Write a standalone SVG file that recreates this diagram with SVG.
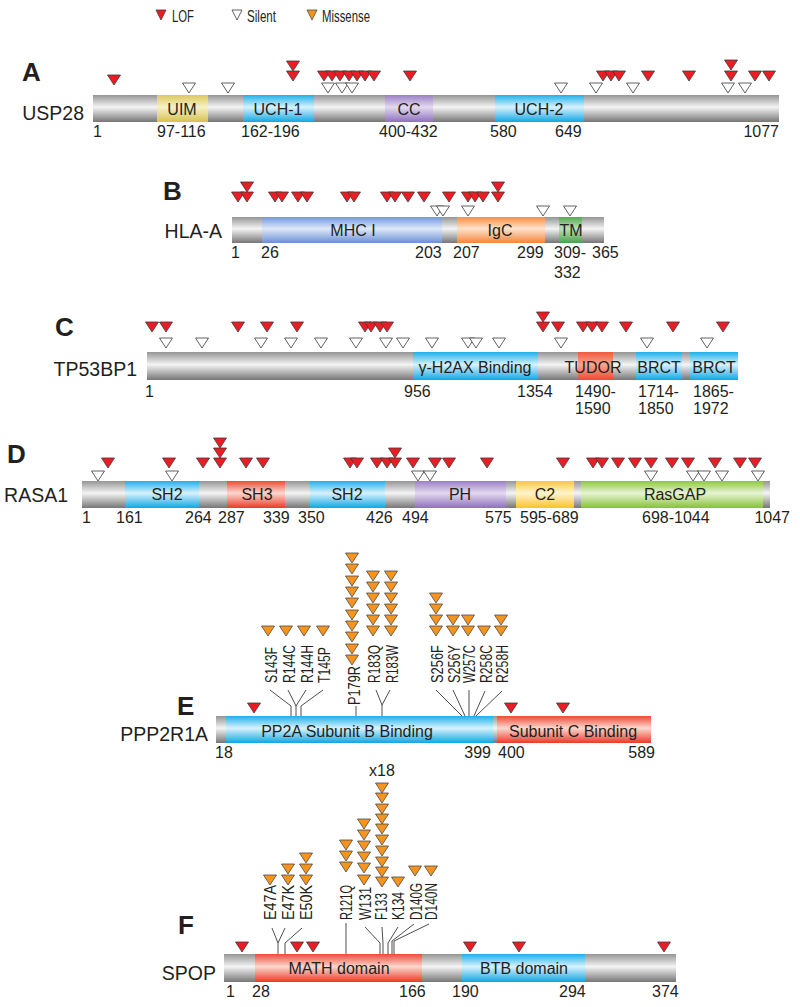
<svg xmlns="http://www.w3.org/2000/svg" xmlns:xlink="http://www.w3.org/1999/xlink" width="800" height="1007" viewBox="0 0 800 1007">
<style>
text{font-family:"Liberation Sans",Arial,sans-serif;fill:#231f20}
.let{font-size:26px;font-weight:bold}
.nm{font-size:19.5px}
.dm{font-size:16px;text-anchor:middle}
.nu{font-size:16px}
.mu{font-size:16.5px}
.lg{font-size:17px}
.l{fill:#ed1c24;stroke:#3a3a3a;stroke-width:0.8}
.s{fill:#fff;stroke:#3a3a3a;stroke-width:0.8}
.m{fill:#f7941d;stroke:#4a4a4a;stroke-width:0.8}
.cn{fill:none;stroke:#3a3a3a;stroke-width:0.9}
</style>
<defs>
<path id="t" d="M-6.5,0H6.5L0,10Z"/>
<path id="tl" d="M-5,0H5L0,10Z"/>
<linearGradient id="gGray" x1="0" y1="0" x2="0" y2="1"><stop offset="0" stop-color="#959595"/><stop offset="0.45" stop-color="#f4f4f4"/><stop offset="1" stop-color="#767676"/></linearGradient>
<linearGradient id="gCyan" x1="0" y1="0" x2="0" y2="1"><stop offset="0" stop-color="#1cb0ea"/><stop offset="0.45" stop-color="#d8f2fd"/><stop offset="1" stop-color="#10a6e4"/></linearGradient>
<linearGradient id="gRed" x1="0" y1="0" x2="0" y2="1"><stop offset="0" stop-color="#ef4a36"/><stop offset="0.45" stop-color="#fbd8cf"/><stop offset="1" stop-color="#ec3926"/></linearGradient>
<linearGradient id="gTudor" x1="0" y1="0" x2="0" y2="1"><stop offset="0" stop-color="#f05a3c"/><stop offset="0.45" stop-color="#f8a590"/><stop offset="1" stop-color="#ee4a30"/></linearGradient>
<linearGradient id="gPurple" x1="0" y1="0" x2="0" y2="1"><stop offset="0" stop-color="#9a7fc4"/><stop offset="0.45" stop-color="#e3d9ef"/><stop offset="1" stop-color="#8e70bd"/></linearGradient>
<linearGradient id="gYel" x1="0" y1="0" x2="0" y2="1"><stop offset="0" stop-color="#dcc95c"/><stop offset="0.45" stop-color="#f7f0c6"/><stop offset="1" stop-color="#d6c250"/></linearGradient>
<linearGradient id="gGold" x1="0" y1="0" x2="0" y2="1"><stop offset="0" stop-color="#fcc83a"/><stop offset="0.45" stop-color="#fff4cc"/><stop offset="1" stop-color="#fbc22c"/></linearGradient>
<linearGradient id="gBlue" x1="0" y1="0" x2="0" y2="1"><stop offset="0" stop-color="#7398d8"/><stop offset="0.45" stop-color="#dfe8f8"/><stop offset="1" stop-color="#6a90d4"/></linearGradient>
<linearGradient id="gOr" x1="0" y1="0" x2="0" y2="1"><stop offset="0" stop-color="#f78f45"/><stop offset="0.45" stop-color="#fde2cd"/><stop offset="1" stop-color="#f5853a"/></linearGradient>
<linearGradient id="gGrn" x1="0" y1="0" x2="0" y2="1"><stop offset="0" stop-color="#55a855"/><stop offset="0.45" stop-color="#bfe0b9"/><stop offset="1" stop-color="#4aa04c"/></linearGradient>
<linearGradient id="gLime" x1="0" y1="0" x2="0" y2="1"><stop offset="0" stop-color="#8dc63f"/><stop offset="0.45" stop-color="#e7f4d5"/><stop offset="1" stop-color="#86c236"/></linearGradient>
</defs>
<rect width="800" height="1007" fill="#fff"/>

<g id="legend">
<use xlink:href="#tl" class="l" x="161" y="10"/><text class="lg" x="172" y="21.5" textLength="22" lengthAdjust="spacingAndGlyphs">LOF</text>
<use xlink:href="#tl" class="s" x="237" y="10"/><text class="lg" x="247" y="21.5" textLength="29" lengthAdjust="spacingAndGlyphs">Silent</text>
<use xlink:href="#tl" class="m" x="312" y="10"/><text class="lg" x="322" y="21.5" textLength="48" lengthAdjust="spacingAndGlyphs">Missense</text>
</g>

<g id="panel-A-USP28">
<text class="let" x="22" y="81">A</text>
<text class="nm" x="84" y="120" text-anchor="end">USP28</text>
<rect x="93" y="95" width="686" height="27" fill="url(#gGray)"/>
<rect x="157" y="95" width="51" height="27" fill="url(#gYel)"/>
<rect x="243" y="95" width="71" height="27" fill="url(#gCyan)"/>
<rect x="385" y="95" width="48" height="27" fill="url(#gPurple)"/>
<rect x="495" y="95" width="89" height="27" fill="url(#gCyan)"/>
<text class="dm" x="182" y="115">UIM</text>
<text class="dm" x="278" y="115">UCH-1</text>
<text class="dm" x="409" y="115">CC</text>
<text class="dm" x="539" y="115">UCH-2</text>
<text class="nu" x="93" y="137">1</text>
<text class="nu" x="157" y="137">97-116</text>
<text class="nu" x="241" y="137">162-196</text>
<text class="nu" x="379" y="137">400-432</text>
<text class="nu" x="490" y="137">580</text>
<text class="nu" x="555" y="137">649</text>
<text class="nu" x="779" y="137" text-anchor="end">1077</text>
<g>
<use xlink:href="#t" class="l" x="114" y="75"/>
<use xlink:href="#t" class="l" x="293" y="61"/><use xlink:href="#t" class="l" x="293" y="71"/>
<use xlink:href="#t" class="l" x="324" y="71"/><use xlink:href="#t" class="l" x="332" y="71"/><use xlink:href="#t" class="l" x="340" y="71"/><use xlink:href="#t" class="l" x="349" y="71"/><use xlink:href="#t" class="l" x="357" y="71"/><use xlink:href="#t" class="l" x="365" y="71"/><use xlink:href="#t" class="l" x="374" y="71"/>
<use xlink:href="#t" class="l" x="410" y="71"/>
<use xlink:href="#t" class="l" x="603" y="71"/><use xlink:href="#t" class="l" x="611" y="71"/><use xlink:href="#t" class="l" x="619" y="71"/>
<use xlink:href="#t" class="l" x="648" y="71"/><use xlink:href="#t" class="l" x="689" y="71"/>
<use xlink:href="#t" class="l" x="731" y="60"/><use xlink:href="#t" class="l" x="731" y="71"/>
<use xlink:href="#t" class="l" x="755" y="71"/><use xlink:href="#t" class="l" x="769" y="71"/>
<use xlink:href="#t" class="s" x="189" y="83"/><use xlink:href="#t" class="s" x="228" y="83"/>
<use xlink:href="#t" class="s" x="328" y="83"/><use xlink:href="#t" class="s" x="342" y="83"/><use xlink:href="#t" class="s" x="352" y="83"/>
<use xlink:href="#t" class="s" x="561" y="83"/><use xlink:href="#t" class="s" x="596" y="83"/><use xlink:href="#t" class="s" x="633" y="83"/>
<use xlink:href="#t" class="s" x="728" y="83"/><use xlink:href="#t" class="s" x="745" y="83"/>
</g>
</g>

<g id="panel-B-HLA-A">
<text class="let" x="163" y="200">B</text>
<text class="nm" x="222" y="238" text-anchor="end">HLA-A</text>
<rect x="232" y="217" width="372" height="26" fill="url(#gGray)"/>
<rect x="262" y="217" width="180" height="26" fill="url(#gBlue)"/>
<rect x="457" y="217" width="88" height="26" fill="url(#gOr)"/>
<rect x="559" y="217" width="23" height="26" fill="url(#gGrn)"/>
<text class="dm" x="353" y="236">MHC I</text>
<text class="dm" x="500" y="236">IgC</text>
<text class="dm" x="571" y="236">TM</text>
<text class="nu" x="231" y="258">1</text>
<text class="nu" x="261" y="258">26</text>
<text class="nu" x="415" y="258">203</text>
<text class="nu" x="453" y="258">207</text>
<text class="nu" x="517" y="258">299</text>
<text class="nu" x="554" y="258">309-</text>
<text class="nu" x="554" y="278">332</text>
<text class="nu" x="592" y="258">365</text>
<g>
<use xlink:href="#t" class="l" x="247" y="182"/><use xlink:href="#t" class="l" x="498" y="182"/>
<use xlink:href="#t" class="l" x="238" y="192"/><use xlink:href="#t" class="l" x="247" y="192"/>
<use xlink:href="#t" class="l" x="275" y="192"/><use xlink:href="#t" class="l" x="282" y="192"/>
<use xlink:href="#t" class="l" x="298" y="192"/><use xlink:href="#t" class="l" x="307" y="192"/>
<use xlink:href="#t" class="l" x="347" y="192"/><use xlink:href="#t" class="l" x="354" y="192"/>
<use xlink:href="#t" class="l" x="387" y="192"/><use xlink:href="#t" class="l" x="395" y="192"/><use xlink:href="#t" class="l" x="408" y="192"/><use xlink:href="#t" class="l" x="424" y="192"/>
<use xlink:href="#t" class="l" x="449" y="192"/>
<use xlink:href="#t" class="l" x="468" y="192"/><use xlink:href="#t" class="l" x="475" y="192"/><use xlink:href="#t" class="l" x="483" y="192"/>
<use xlink:href="#t" class="l" x="498" y="192"/>
<use xlink:href="#t" class="s" x="437" y="206"/><use xlink:href="#t" class="s" x="443" y="206"/><use xlink:href="#t" class="s" x="468" y="206"/><use xlink:href="#t" class="s" x="543" y="206"/><use xlink:href="#t" class="s" x="570" y="206"/>
</g>
</g>

<g id="panel-C-TP53BP1">
<text class="let" x="55" y="336">C</text>
<text class="nm" x="137" y="376" text-anchor="end">TP53BP1</text>
<rect x="147" y="352" width="591" height="28" fill="url(#gGray)"/>
<rect x="413" y="352" width="125" height="28" fill="url(#gCyan)"/>
<rect x="578" y="352" width="35" height="28" fill="url(#gTudor)"/>
<rect x="636" y="352" width="46" height="28" fill="url(#gCyan)"/>
<rect x="690" y="352" width="48" height="28" fill="url(#gCyan)"/>
<text class="dm" x="475" y="373" font-size="16.5">γ-H2AX Binding</text>
<text class="dm" x="593" y="373">TUDOR</text>
<text class="dm" x="659" y="373">BRCT</text>
<text class="dm" x="714" y="373">BRCT</text>
<text class="nu" x="145" y="397">1</text>
<text class="nu" x="404" y="397">956</text>
<text class="nu" x="517" y="397">1354</text>
<text class="nu" x="575" y="397">1490-</text>
<text class="nu" x="575" y="414">1590</text>
<text class="nu" x="638" y="397">1714-</text>
<text class="nu" x="638" y="414">1850</text>
<text class="nu" x="693" y="397">1865-</text>
<text class="nu" x="693" y="414">1972</text>
<g>
<use xlink:href="#t" class="l" x="543" y="312"/>
<use xlink:href="#t" class="l" x="152" y="322"/><use xlink:href="#t" class="l" x="166" y="322"/>
<use xlink:href="#t" class="l" x="238" y="322"/><use xlink:href="#t" class="l" x="267" y="322"/><use xlink:href="#t" class="l" x="297" y="322"/>
<use xlink:href="#t" class="l" x="365" y="322"/><use xlink:href="#t" class="l" x="371" y="322"/><use xlink:href="#t" class="l" x="380" y="322"/><use xlink:href="#t" class="l" x="387" y="322"/>
<use xlink:href="#t" class="l" x="543" y="322"/><use xlink:href="#t" class="l" x="558" y="322"/>
<use xlink:href="#t" class="l" x="583" y="322"/><use xlink:href="#t" class="l" x="592" y="322"/><use xlink:href="#t" class="l" x="602" y="322"/>
<use xlink:href="#t" class="l" x="626" y="322"/><use xlink:href="#t" class="l" x="673" y="322"/><use xlink:href="#t" class="l" x="723" y="322"/>
<use xlink:href="#t" class="s" x="166" y="338"/><use xlink:href="#t" class="s" x="202" y="338"/><use xlink:href="#t" class="s" x="261" y="338"/><use xlink:href="#t" class="s" x="291" y="338"/><use xlink:href="#t" class="s" x="321" y="338"/><use xlink:href="#t" class="s" x="356" y="338"/><use xlink:href="#t" class="s" x="386" y="338"/><use xlink:href="#t" class="s" x="403" y="338"/><use xlink:href="#t" class="s" x="432" y="338"/><use xlink:href="#t" class="s" x="468" y="338"/><use xlink:href="#t" class="s" x="476" y="338"/><use xlink:href="#t" class="s" x="499" y="338"/><use xlink:href="#t" class="s" x="561" y="338"/><use xlink:href="#t" class="s" x="647" y="338"/><use xlink:href="#t" class="s" x="707" y="338"/>
</g>
</g>

<g id="panel-D-RASA1">
<text class="let" x="7" y="463">D</text>
<text class="nm" x="68" y="502" text-anchor="end">RASA1</text>
<rect x="82" y="481" width="688" height="27" fill="url(#gGray)"/>
<rect x="125" y="481" width="74" height="27" fill="url(#gCyan)"/>
<rect x="227" y="481" width="58" height="27" fill="url(#gRed)"/>
<rect x="310" y="481" width="75" height="27" fill="url(#gCyan)"/>
<rect x="415" y="481" width="91" height="27" fill="url(#gPurple)"/>
<rect x="516" y="481" width="58" height="27" fill="url(#gGold)"/>
<rect x="581" y="481" width="182" height="27" fill="url(#gLime)"/>
<text class="dm" x="167" y="500">SH2</text>
<text class="dm" x="257" y="500">SH3</text>
<text class="dm" x="347" y="500">SH2</text>
<text class="dm" x="460" y="500">PH</text>
<text class="dm" x="545" y="500">C2</text>
<text class="dm" x="675" y="500">RasGAP</text>
<text class="nu" x="82" y="523">1</text>
<text class="nu" x="116" y="523">161</text>
<text class="nu" x="185" y="523">264</text>
<text class="nu" x="218" y="523">287</text>
<text class="nu" x="263" y="523">339</text>
<text class="nu" x="298" y="523">350</text>
<text class="nu" x="366" y="523">426</text>
<text class="nu" x="402" y="523">494</text>
<text class="nu" x="485" y="523">575</text>
<text class="nu" x="520" y="523">595-689</text>
<text class="nu" x="642" y="523">698-1044</text>
<text class="nu" x="790" y="523" text-anchor="end">1047</text>
<g>
<use xlink:href="#t" class="l" x="220" y="438"/><use xlink:href="#t" class="l" x="220" y="448"/><use xlink:href="#t" class="l" x="395" y="448"/>
<use xlink:href="#t" class="l" x="108" y="458"/><use xlink:href="#t" class="l" x="169" y="458"/><use xlink:href="#t" class="l" x="203" y="458"/><use xlink:href="#t" class="l" x="220" y="458"/><use xlink:href="#t" class="l" x="246" y="458"/><use xlink:href="#t" class="l" x="263" y="458"/>
<use xlink:href="#t" class="l" x="350" y="458"/><use xlink:href="#t" class="l" x="357" y="458"/><use xlink:href="#t" class="l" x="377" y="458"/><use xlink:href="#t" class="l" x="387" y="458"/><use xlink:href="#t" class="l" x="395" y="458"/>
<use xlink:href="#t" class="l" x="413" y="458"/><use xlink:href="#t" class="l" x="435" y="458"/><use xlink:href="#t" class="l" x="449" y="458"/><use xlink:href="#t" class="l" x="487" y="458"/><use xlink:href="#t" class="l" x="563" y="458"/>
<use xlink:href="#t" class="l" x="593" y="458"/><use xlink:href="#t" class="l" x="602" y="458"/><use xlink:href="#t" class="l" x="618" y="458"/><use xlink:href="#t" class="l" x="635" y="458"/><use xlink:href="#t" class="l" x="651" y="458"/><use xlink:href="#t" class="l" x="672" y="458"/><use xlink:href="#t" class="l" x="688" y="458"/><use xlink:href="#t" class="l" x="715" y="458"/><use xlink:href="#t" class="l" x="740" y="458"/><use xlink:href="#t" class="l" x="755" y="458"/>
<use xlink:href="#t" class="s" x="98" y="471"/><use xlink:href="#t" class="s" x="172" y="471"/><use xlink:href="#t" class="s" x="418" y="471"/><use xlink:href="#t" class="s" x="430" y="471"/><use xlink:href="#t" class="s" x="651" y="471"/><use xlink:href="#t" class="s" x="693" y="471"/><use xlink:href="#t" class="s" x="704" y="471"/><use xlink:href="#t" class="s" x="722" y="471"/><use xlink:href="#t" class="s" x="758" y="471"/>
</g>
</g>

<g id="panel-E-PPP2R1A">
<text class="let" x="177" y="715">E</text>
<text class="nm" x="208" y="741" text-anchor="end">PPP2R1A</text>
<rect x="216" y="716" width="435" height="27" fill="url(#gGray)"/>
<rect x="226" y="716" width="267" height="27" fill="url(#gCyan)"/>
<rect x="497" y="716" width="154" height="27" fill="url(#gRed)"/>
<text class="dm" x="347" y="737">PP2A Subunit B Binding</text>
<text class="dm" x="573" y="737">Subunit C Binding</text>
<text class="nu" x="215" y="758">18</text>
<text class="nu" x="491" y="758" text-anchor="end">399</text>
<text class="nu" x="498" y="758">400</text>
<text class="nu" x="655" y="758" text-anchor="end">589</text>
<g>
<use xlink:href="#t" class="l" x="254" y="703"/><use xlink:href="#t" class="l" x="511" y="703"/><use xlink:href="#t" class="l" x="563" y="703"/>
<use xlink:href="#t" class="m" x="268" y="626"/><use xlink:href="#t" class="m" x="286" y="626"/><use xlink:href="#t" class="m" x="304" y="626"/><use xlink:href="#t" class="m" x="323" y="626"/>
<use xlink:href="#t" class="m" x="352" y="553"/><use xlink:href="#t" class="m" x="352" y="564"/><use xlink:href="#t" class="m" x="352" y="576"/><use xlink:href="#t" class="m" x="352" y="587"/><use xlink:href="#t" class="m" x="352" y="598"/><use xlink:href="#t" class="m" x="352" y="610"/><use xlink:href="#t" class="m" x="352" y="621"/><use xlink:href="#t" class="m" x="352" y="632"/><use xlink:href="#t" class="m" x="352" y="644"/><use xlink:href="#t" class="m" x="352" y="655"/>
<use xlink:href="#t" class="m" x="373" y="571"/><use xlink:href="#t" class="m" x="373" y="582"/><use xlink:href="#t" class="m" x="373" y="593"/><use xlink:href="#t" class="m" x="373" y="604"/><use xlink:href="#t" class="m" x="373" y="615"/><use xlink:href="#t" class="m" x="373" y="626"/>
<use xlink:href="#t" class="m" x="391" y="571"/><use xlink:href="#t" class="m" x="391" y="582"/><use xlink:href="#t" class="m" x="391" y="593"/><use xlink:href="#t" class="m" x="391" y="604"/><use xlink:href="#t" class="m" x="391" y="615"/><use xlink:href="#t" class="m" x="391" y="626"/>
<use xlink:href="#t" class="m" x="436" y="593"/><use xlink:href="#t" class="m" x="436" y="604"/><use xlink:href="#t" class="m" x="436" y="615"/><use xlink:href="#t" class="m" x="436" y="626"/>
<use xlink:href="#t" class="m" x="453" y="615"/><use xlink:href="#t" class="m" x="453" y="626"/>
<use xlink:href="#t" class="m" x="468" y="615"/><use xlink:href="#t" class="m" x="468" y="626"/>
<use xlink:href="#t" class="m" x="484" y="626"/>
<use xlink:href="#t" class="m" x="501" y="615"/><use xlink:href="#t" class="m" x="501" y="626"/>
</g>
<g>
<text class="mu" transform="translate(277,683) rotate(-90)" textLength="36" lengthAdjust="spacingAndGlyphs">S143F</text>
<text class="mu" transform="translate(295,683) rotate(-90)" textLength="38" lengthAdjust="spacingAndGlyphs">R144C</text>
<text class="mu" transform="translate(313,683) rotate(-90)" textLength="38" lengthAdjust="spacingAndGlyphs">R144H</text>
<text class="mu" transform="translate(330,683) rotate(-90)" textLength="36" lengthAdjust="spacingAndGlyphs">T145P</text>
<text class="mu" transform="translate(360,705) rotate(-90)" textLength="39" lengthAdjust="spacingAndGlyphs">P179R</text>
<text class="mu" transform="translate(380,683) rotate(-90)" textLength="38" lengthAdjust="spacingAndGlyphs">R183Q</text>
<text class="mu" transform="translate(398,683) rotate(-90)" textLength="38" lengthAdjust="spacingAndGlyphs">R183W</text>
<text class="mu" transform="translate(443,683) rotate(-90)" textLength="38" lengthAdjust="spacingAndGlyphs">S256F</text>
<text class="mu" transform="translate(460,683) rotate(-90)" textLength="38" lengthAdjust="spacingAndGlyphs">S256Y</text>
<text class="mu" transform="translate(475,683) rotate(-90)" textLength="38" lengthAdjust="spacingAndGlyphs">W257C</text>
<text class="mu" transform="translate(492,683) rotate(-90)" textLength="38" lengthAdjust="spacingAndGlyphs">R258C</text>
<text class="mu" transform="translate(508,683) rotate(-90)" textLength="38" lengthAdjust="spacingAndGlyphs">R258H</text>
</g>
</g>

<g id="panel-F-SPOP">
<text class="let" x="178" y="934">F</text>
<text class="nm" x="216" y="980" text-anchor="end">SPOP</text>
<rect x="224" y="954" width="452" height="28" fill="url(#gGray)"/>
<rect x="255" y="954" width="167" height="28" fill="url(#gRed)"/>
<rect x="462" y="954" width="123" height="28" fill="url(#gCyan)"/>
<text class="dm" x="339" y="974">MATH domain</text>
<text class="dm" x="524" y="974">BTB domain</text>
<text class="nu" x="226" y="997">1</text>
<text class="nu" x="252" y="997">28</text>
<text class="nu" x="399" y="997">166</text>
<text class="nu" x="452" y="997">190</text>
<text class="nu" x="559" y="997">294</text>
<text class="nu" x="652" y="997">374</text>
<text class="nu" x="382" y="776" text-anchor="middle">x18</text>
<g>
<use xlink:href="#t" class="l" x="242" y="942"/><use xlink:href="#t" class="l" x="297" y="942"/><use xlink:href="#t" class="l" x="313" y="942"/><use xlink:href="#t" class="l" x="470" y="942"/><use xlink:href="#t" class="l" x="519" y="942"/><use xlink:href="#t" class="l" x="664" y="942"/>
<use xlink:href="#t" class="m" x="270" y="875"/>
<use xlink:href="#t" class="m" x="288" y="864"/><use xlink:href="#t" class="m" x="288" y="875"/>
<use xlink:href="#t" class="m" x="306" y="853"/><use xlink:href="#t" class="m" x="306" y="864"/><use xlink:href="#t" class="m" x="306" y="875"/>
<use xlink:href="#t" class="m" x="346" y="840"/><use xlink:href="#t" class="m" x="346" y="851"/><use xlink:href="#t" class="m" x="346" y="862"/>
<use xlink:href="#t" class="m" x="364" y="819"/><use xlink:href="#t" class="m" x="364" y="830"/><use xlink:href="#t" class="m" x="364" y="841"/><use xlink:href="#t" class="m" x="364" y="852"/><use xlink:href="#t" class="m" x="364" y="863"/><use xlink:href="#t" class="m" x="364" y="875"/>
<use xlink:href="#t" class="m" x="382" y="783"/><use xlink:href="#t" class="m" x="382" y="793"/><use xlink:href="#t" class="m" x="382" y="804"/><use xlink:href="#t" class="m" x="382" y="814"/><use xlink:href="#t" class="m" x="382" y="824"/><use xlink:href="#t" class="m" x="382" y="835"/><use xlink:href="#t" class="m" x="382" y="846"/><use xlink:href="#t" class="m" x="382" y="857"/><use xlink:href="#t" class="m" x="382" y="867"/><use xlink:href="#t" class="m" x="382" y="877"/>
<use xlink:href="#t" class="m" x="398" y="877"/>
<use xlink:href="#t" class="m" x="415" y="866"/><use xlink:href="#t" class="m" x="431" y="866"/>
</g>
<g>
<text class="mu" transform="translate(276,920) rotate(-90)" textLength="35" lengthAdjust="spacingAndGlyphs">E47A</text>
<text class="mu" transform="translate(294,920) rotate(-90)" textLength="35" lengthAdjust="spacingAndGlyphs">E47K</text>
<text class="mu" transform="translate(312,920) rotate(-90)" textLength="35" lengthAdjust="spacingAndGlyphs">E50K</text>
<text class="mu" transform="translate(352,920) rotate(-90)" textLength="35" lengthAdjust="spacingAndGlyphs">R121Q</text>
<text class="mu" transform="translate(371,920) rotate(-90)" textLength="33" lengthAdjust="spacingAndGlyphs">W131</text>
<text class="mu" transform="translate(387,920) rotate(-90)" textLength="27" lengthAdjust="spacingAndGlyphs">F133</text>
<text class="mu" transform="translate(404,920) rotate(-90)" textLength="28" lengthAdjust="spacingAndGlyphs">K134</text>
<text class="mu" transform="translate(422,920) rotate(-90)" textLength="37" lengthAdjust="spacingAndGlyphs">D140G</text>
<text class="mu" transform="translate(437,920) rotate(-90)" textLength="37" lengthAdjust="spacingAndGlyphs">D140N</text>
</g>
</g>

<g id="connectors" class="cn">
<path d="M270,690L291,706V716"/>
<path d="M288,690L296,706V716M306,690L296,706"/>
<path d="M323,690L301,706V716"/>
<path d="M356,706V716"/>
<path d="M376,690L382,705V716M390,690L382,705"/>
<path d="M436,690L462,716"/>
<path d="M453,690L465,716"/>
<path d="M469,690V716"/>
<path d="M485,691L474,716"/>
<path d="M502,691L476,716"/>
<path d="M272,928L278,943V954M285,928L278,943"/>
<path d="M302,928L285,943V954"/>
<path d="M346,923V954"/>
<path d="M365,927L380,943V954"/>
<path d="M382,927L383,943V954"/>
<path d="M398,927L388,943V954"/>
<path d="M414,924L392,941V954"/>
<path d="M429,924L394,941V954"/>
</g>
</svg>
